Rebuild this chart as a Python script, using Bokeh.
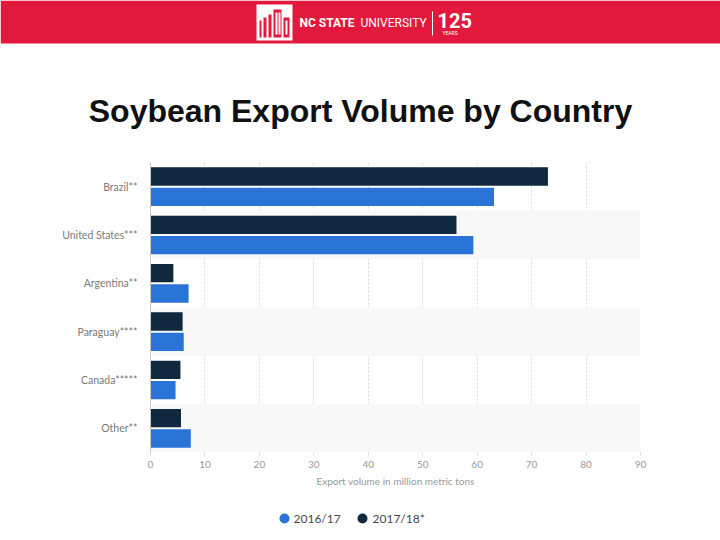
from bokeh.plotting import figure
from bokeh.models import Range1d, FactorRange, ColumnDataSource
from bokeh.transform import dodge
from bokeh.core.properties import value
from bokeh.embed import file_html
from bokeh.resources import INLINE

# ---------------- data ----------------
countries = ["Brazil**", "United States***", "Argentina**", "Paraguay****", "Canada*****", "Other**"]
vol_2016_17 = [63.1, 59.3, 7.0, 6.1, 4.6, 7.4]
vol_2017_18 = [73.0, 56.2, 4.2, 5.9, 5.5, 5.6]
series_names = ["2016/17", "2017/18*"]
x_ticks = [0, 10, 20, 30, 40, 50, 60, 70, 80, 90]

BLUE = "#2a74d8"
DARK = "#11293f"
RED = "#e2183c"
W = 720

# ---------------- banner + title ----------------
top = figure(width=W, height=155, x_range=Range1d(0, W), y_range=Range1d(155, 0),
             output_backend="svg", toolbar_location=None, min_border=0)
top.axis.visible = False
top.grid.visible = False
top.outline_line_color = None
top.quad(left=[0], right=[W], top=[0], bottom=[43], fill_color=RED, line_color=None)
# logo box
top.quad(left=[256], right=[292], top=[4], bottom=[40], fill_color="white", line_color=None)
top.quad(left=[259, 263, 268, 273, 283], right=[261, 266, 271, 281, 289],
         top=[20, 17, 14, 9, 17], bottom=[37, 37, 37, 37, 37], fill_color=RED, line_color=None)
top.quad(left=[275, 278, 285], right=[277, 280, 287], top=[12, 12, 20], bottom=[34, 34, 34],
         fill_color="white", line_color=None)
top.text(x=[299], y=[22], text=["NC STATE"], text_color="white", text_font=value("Roboto"),
         text_font_style="bold", text_font_size="12px", text_baseline="middle", text_align="left")
top.text(x=[360], y=[22], text=["UNIVERSITY"], text_color="white", text_font=value("Roboto"),
         text_font_size="12px", text_baseline="middle", text_align="left")
top.segment(x0=[432], y0=[11], x1=[432], y1=[35], line_color="white", line_width=1)
top.text(x=[437], y=[20], text=["125"], text_color="white", text_font=value("Roboto"),
         text_font_style="bold", text_font_size="20px", text_baseline="middle", text_align="left")
top.text(x=[442], y=[32], text=["YEARS"], text_color="white", text_font=value("Roboto"),
         text_font_size="5px", text_baseline="middle", text_align="left")
# title
top.text(x=[360], y=[110], text=["Soybean Export Volume by Country"], text_color="#111111",
         text_font=value("Liberation Sans"), text_font_size="32px", text_font_style="bold",
         text_baseline="middle", text_align="center")

# ---------------- chart ----------------
factors = list(reversed(countries))
src = ColumnDataSource(dict(country=countries, a=vol_2016_17, b=vol_2017_18))
band_src = ColumnDataSource(dict(country=[countries[i] for i in range(1, len(countries), 2)]))

p = figure(width=W, height=345, y_range=FactorRange(*factors), x_range=Range1d(0, 90),
           output_backend="svg", toolbar_location=None,
           min_border_left=150, min_border_right=80, min_border_top=7, min_border_bottom=48)
p.outline_line_color = None
p.hbar(y="country", left=0, right=90, height=1.0, source=band_src,
       fill_color="#f8f8f8", line_color=None)
p.hbar(y=dodge("country", 0.21, range=p.y_range), left=0, right="b", height=0.38,
       source=src, fill_color=DARK, line_color=None)
p.hbar(y=dodge("country", -0.21, range=p.y_range), left=0, right="a", height=0.38,
       source=src, fill_color=BLUE, line_color=None)

p.ygrid.grid_line_color = None
p.xgrid.grid_line_color = "#d8d8d8"
p.xgrid.grid_line_dash = "2 2"
p.xgrid.level = "underlay"
p.xaxis.ticker = x_ticks
p.xaxis.axis_line_color = None
p.xaxis.major_tick_line_color = "#dddddd"
p.xaxis.major_tick_out = 3
p.xaxis.major_tick_in = 0
p.xaxis.minor_tick_line_color = None
p.xaxis.major_label_text_font = "Lato"
p.xaxis.major_label_text_font_size = "10px"
p.xaxis.major_label_text_color = "#9a9a9a"
p.xaxis.major_label_standoff = 5
p.xaxis.axis_label = "Export volume in million metric tons"
p.xaxis.axis_label_text_font = "Lato"
p.xaxis.axis_label_text_font_size = "10px"
p.xaxis.axis_label_text_font_style = "normal"
p.xaxis.axis_label_text_color = "#999999"
p.xaxis.axis_label_standoff = 4

p.yaxis.axis_line_color = "#c8c8c8"
p.yaxis.major_tick_line_color = None
p.yaxis.minor_tick_line_color = None
p.yaxis.major_label_text_font = "Lato"
p.yaxis.major_label_text_font_size = "10.5px"
p.yaxis.major_label_text_color = "#7a7a7a"
p.yaxis.major_label_standoff = 7

# ---------------- legend ----------------
leg = figure(width=W, height=40, x_range=Range1d(0, W), y_range=Range1d(40, 0),
             output_backend="svg", toolbar_location=None, min_border=0)
leg.axis.visible = False
leg.grid.visible = False
leg.outline_line_color = None
leg.scatter(x=[284, 362], y=[18, 18], size=10, fill_color=[BLUE, DARK], line_color=None)
leg.text(x=[293, 372], y=[18, 18], text=series_names, text_color="#4a4a4a",
         text_font=value("Lato"), text_font_size="12px", text_baseline="middle", text_align="left")

html = file_html([top, p, leg], INLINE)
html = html.replace("<head>", "<head><style>html,body{margin:0;padding:0;overflow:hidden;}</style>", 1)
open("out.html", "w").write(html)
